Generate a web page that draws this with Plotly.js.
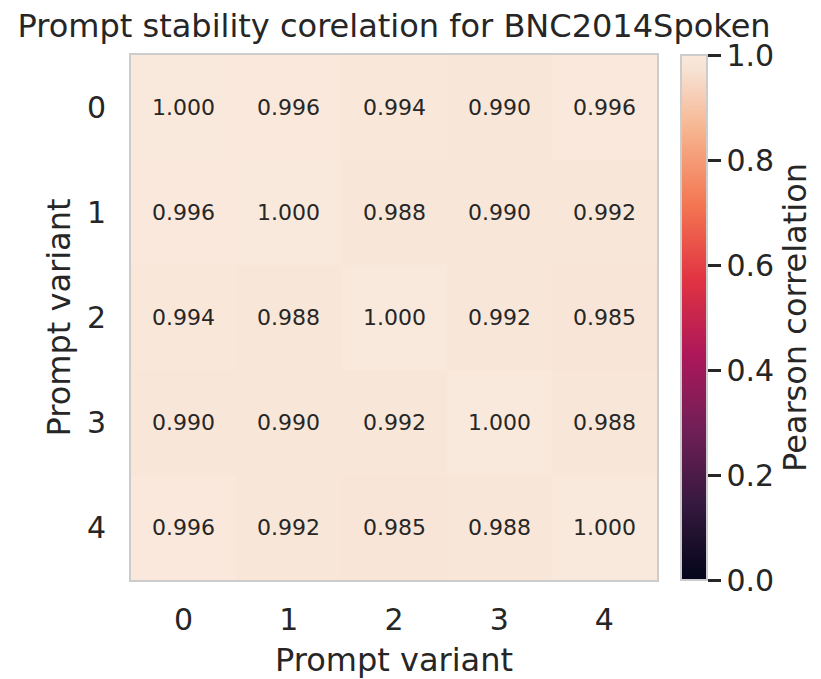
<!DOCTYPE html>
<html>
<head>
<meta charset="utf-8">
<script src="https://cdn.plot.ly/plotly-3.0.1.min.js"></script>
<style>html,body{margin:0;padding:0;background:#fff;}#chart{width:821px;height:679px;}</style>
</head>
<body>
<div id="chart"></div>
<script>
const variants = ['0', '1', '2', '3', '4'];
const row0 = [1.000, 0.996, 0.994, 0.990, 0.996];
const row1 = [0.996, 1.000, 0.988, 0.990, 0.992];
const row2 = [0.994, 0.988, 1.000, 0.992, 0.985];
const row3 = [0.990, 0.990, 0.992, 1.000, 0.988];
const row4 = [0.996, 0.992, 0.985, 0.988, 1.000];
const matrix = [row0, row1, row2, row3, row4];
const colorbarTicks = [0.0, 0.2, 0.4, 0.6, 0.8, 1.0];

const rocket = [
  [0.0, '#03051a'],
  [0.143, '#35193e'],
  [0.286, '#701f57'],
  [0.429, '#ad1759'],
  [0.571, '#e13342'],
  [0.714, '#f37651'],
  [0.857, '#f6b48f'],
  [0.97, '#f7e1d2'],
  [1.0, '#f9e9dc']
];

const textColor = '#262626';
const font = 'DejaVu Sans, sans-serif';

const annotations = [];
matrix.forEach((row, i) => {
  row.forEach((v, j) => {
    annotations.push({
      x: variants[j], y: variants[i], xref: 'x', yref: 'y',
      text: v.toFixed(3), showarrow: false,
      font: {family: font, size: 22, color: textColor}
    });
  });
});

const trace = {
  type: 'heatmap',
  x: variants, y: variants, z: matrix,
  zmin: 0, zmax: 1,
  colorscale: rocket,
  xgap: 0, ygap: 0,
  colorbar: {
    x: 1.0456, xanchor: 'left', xref: 'paper',
    y: 0.5, yanchor: 'middle', len: 1, lenmode: 'fraction',
    thickness: 26, thicknessmode: 'pixels',
    outlinecolor: '#cccccc', outlinewidth: 2,
    tickvals: colorbarTicks, ticktext: colorbarTicks.map(t => t.toFixed(1)),
    ticks: 'outside', ticklen: 13, tickwidth: 3, tickcolor: textColor,
    tickfont: {family: font, size: 30, color: textColor},
    title: {text: 'Pearson correlation', side: 'right', font: {family: font, size: 32, color: textColor}},
    xpad: 0, ypad: 0
  }
};

const layout = {
  width: 821, height: 679,
  margin: {l: 131, r: 164, t: 55, b: 99, autoexpand: false},
  paper_bgcolor: '#ffffff', plot_bgcolor: '#ffffff',
  title: {text: 'Prompt stability corelation for BNC2014Spoken', x: 0.48, xanchor: 'center', y: 0.962, yanchor: 'middle',
          font: {family: font, size: 32, color: textColor}},
  xaxis: {
    title: {text: 'Prompt variant', font: {family: font, size: 32, color: textColor}, standoff: 13},
    tickfont: {family: font, size: 30, color: textColor},
    showline: true, mirror: true, linecolor: '#cccccc', linewidth: 2,
    ticks: '', showgrid: false, zeroline: false, ticklabelstandoff: 12, automargin: false
  },
  yaxis: {
    title: {text: 'Prompt variant', font: {family: font, size: 32, color: textColor}, standoff: 7},
    tickfont: {family: font, size: 30, color: textColor},
    autorange: 'reversed',
    showline: true, mirror: true, linecolor: '#cccccc', linewidth: 2,
    ticks: '', showgrid: false, zeroline: false, ticklabelstandoff: 17, automargin: false
  },
  annotations: annotations
};

Plotly.newPlot('chart', [trace], layout, {displayModeBar: false, staticPlot: true});
</script>
</body>
</html>
